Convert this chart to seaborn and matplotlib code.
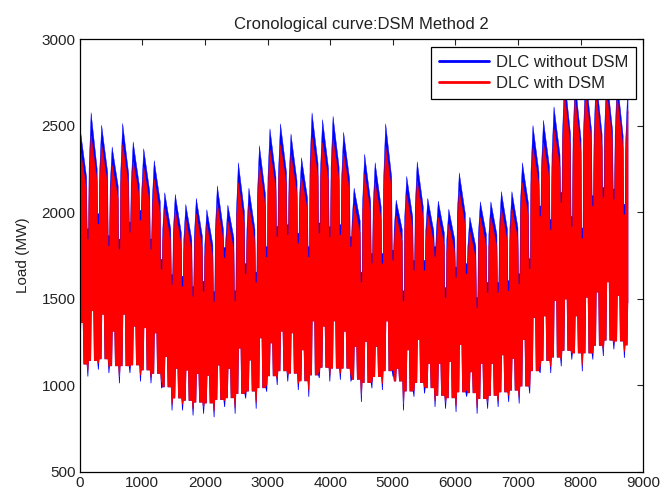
import numpy as np
import matplotlib
matplotlib.use("Agg")
import matplotlib.pyplot as plt
from matplotlib.lines import Line2D
import seaborn as sns

# ---- data (MW), one value per week / per weekend gap ----
# weekly peak of the load without DSM (blue) and with DSM (red)
peak_without = [2463, 2574, 2502, 2376, 2512, 2405, 2366, 2297, 2112, 2102, 2044, 2079, 2014,
                2151, 2040, 2285, 2138, 2383, 2481, 2510, 2451, 2314, 2573, 2534, 2553, 2461,
                2138, 2334, 2285, 2510, 2069, 2206, 2290, 2079, 2063, 2016, 2226, 1971, 2059,
                2059, 2118, 2118, 2285, 2500, 2530, 2608, 2780, 2760, 2800, 2780, 2800, 2770, 2700]
peak_with = [2350, 2440, 2390, 2270, 2390, 2290, 2260, 2190, 2020, 2010, 1960, 1990, 1930,
             2050, 1950, 2170, 2040, 2270, 2360, 2390, 2330, 2200, 2430, 2400, 2420, 2340,
             2040, 2220, 2170, 2380, 1980, 2100, 2180, 1990, 1970, 1930, 2120, 1890, 1970,
             1970, 2020, 2020, 2170, 2370, 2400, 2480, 2680, 2660, 2700, 2680, 2700, 2670, 2600]
# weekday shoulder level of the daily peaks
shoulder_without = [2200, 2250, 2230, 2150, 2220, 2160, 2120, 2060, 1900, 1880, 1840, 1860, 1810,
                    1900, 1850, 2000, 1900, 2100, 2200, 2230, 2180, 2080, 2280, 2250, 2260, 2190,
                    1950, 2060, 2030, 2200, 1900, 1970, 2030, 1890, 1880, 1840, 1990, 1800, 1870,
                    1870, 1900, 1910, 2050, 2230, 2260, 2330, 2450, 2420, 2470, 2450, 2470, 2440, 2400]
shoulder_with = [2130, 2180, 2160, 2080, 2150, 2090, 2050, 1990, 1830, 1810, 1770, 1790, 1740,
                 1830, 1780, 1930, 1830, 2030, 2130, 2160, 2110, 2010, 2210, 2180, 2190, 2120,
                 1880, 1990, 1960, 2130, 1830, 1900, 1960, 1820, 1810, 1770, 1920, 1730, 1800,
                 1800, 1830, 1840, 1980, 2160, 2190, 2260, 2380, 2350, 2400, 2380, 2400, 2370, 2330]
# weekend peak (bottom of the white gaps)
weekend_without = [1900, 1903, 1990, 1863, 1844, 1942, 2010, 1844, 1727, 1639, 1629, 1571, 1600,
                   1541, 1795, 1545, 1702, 1653, 1800, 1917, 1927, 1878, 1800, 1937, 1915, 1927,
                   1858, 1653, 1761, 1761, 1780, 1545, 1721, 1721, 1800, 1564, 1682, 1702, 1506,
                   1594, 1594, 1604, 1643, 1731, 2035, 1957, 2114, 1976, 1908, 2094, 2143, 2133, 2045]
weekend_with = [1840, 1843, 1930, 1803, 1784, 1882, 1950, 1784, 1667, 1579, 1569, 1511, 1540,
                1481, 1735, 1485, 1642, 1593, 1740, 1857, 1867, 1818, 1740, 1877, 1855, 1867,
                1798, 1593, 1701, 1701, 1720, 1485, 1661, 1661, 1740, 1504, 1622, 1642, 1446,
                1534, 1534, 1544, 1583, 1671, 1975, 1897, 2054, 1916, 1848, 2034, 2083, 2073, 1985]
# weekend minimum load
weekend_min_without = [1050, 1050, 1090, 1070, 1011, 1070, 1021, 1011, 982, 854, 854, 825, 835,
                       815, 874, 835, 923, 864, 962, 1001, 1021, 972, 933, 1041, 1021, 1031,
                       1021, 903, 982, 972, 1050, 854, 933, 952, 874, 864, 845, 933, 835,
                       864, 874, 903, 894, 952, 1070, 1070, 1109, 1148, 1080, 1148, 1168, 1207, 1158]
weekend_min_with = [1085, 1085, 1125, 1105, 1046, 1105, 1056, 1046, 1017, 889, 889, 860, 870,
                    850, 909, 870, 958, 899, 997, 1036, 1056, 1007, 968, 1076, 1056, 1066,
                    1056, 938, 1017, 1007, 1085, 889, 968, 987, 909, 899, 880, 968, 870,
                    899, 909, 938, 929, 987, 1105, 1105, 1144, 1183, 1115, 1183, 1203, 1242, 1193]
# weekday night minimum and the highest midweek minimum
night_min = [1120, 1140, 1150, 1110, 1110, 1115, 1086, 1066, 988, 924, 910, 900, 895,
             915, 925, 949, 964, 983, 1052, 1081, 1067, 1023, 1057, 1101, 1096, 1096,
             1032, 1013, 1047, 1081, 1022, 964, 1013, 983, 939, 925, 959, 954, 920,
             939, 959, 969, 993, 1081, 1140, 1160, 1199, 1184, 1184, 1228, 1258, 1253, 1230]
midweek_min = [1359, 1428, 1408, 1310, 1408, 1339, 1330, 1300, 1163, 1095, 1085, 1065, 1055,
               1114, 1095, 1212, 1143, 1271, 1242, 1310, 1300, 1202, 1369, 1339, 1369, 1310,
               1222, 1251, 1222, 1369, 1095, 1202, 1261, 1124, 1124, 1134, 1232, 1075, 1124,
               1124, 1173, 1153, 1261, 1389, 1398, 1487, 1496, 1398, 1506, 1536, 1595, 1516, 1475]

series_names = ["DLC without DSM", "DLC with DSM"]
series_colors = ["#0000ff", "#ff0000"]
x_ticks = [0, 1000, 2000, 3000, 4000, 5000, 6000, 7000, 8000, 9000]
y_ticks = [500, 1000, 1500, 2000, 2500, 3000]

HOURS = 8760
WEEK = 168
FIRST_GAP = 130


def clip(xs, ys):
    xs = np.asarray(xs, float)
    ys = np.asarray(ys, float)
    y0 = np.interp(0, xs, ys)
    y1 = np.interp(HOURS, xs, ys)
    m = (xs > 0) & (xs < HOURS)
    return np.r_[0, xs[m], HOURS], np.r_[y0, ys[m], y1]


def upper_edge(gap, shoulder, peak):
    xs, ys = [], []
    for k in range(len(peak)):
        g = FIRST_GAP + WEEK * (k - 1)
        xs += [g - 12, g + 12, g + 20, g + 52, g + 148]
        ys += [gap[k], gap[k], shoulder[k], peak[k], shoulder[k]]
    return clip(xs, ys)


def lower_edge(wmin, nmin, mmin):
    xs, ys = [], []
    for k in range(len(nmin)):
        g = FIRST_GAP + WEEK * (k - 1)
        xs += [g - 6, g + 6, g + 16, g + 50, g + 60, g + 88, g + 98, g + 150]
        ys += [wmin[k], wmin[k], nmin[k], nmin[k], mmin[k], mmin[k], nmin[k], nmin[k]]
    return clip(xs, ys)


sns.set_theme(style="white")
plt.rcParams["font.family"] = ["Liberation Sans", "DejaVu Sans"]

fig = plt.figure(figsize=(6.6, 4.92), dpi=100)
ax = fig.add_axes([0.1208, 0.0413, 0.8539, 0.8794])

specs = [
    (weekend_without, shoulder_without, peak_without, weekend_min_without),
    (weekend_with, shoulder_with, peak_with, weekend_min_with),
]
for (gap, sh, pk, wmin), name, col in zip(specs, series_names, series_colors):
    xu, yu = upper_edge(gap, sh, pk)
    xl, yl = lower_edge(wmin, night_min, midweek_min)
    ax.fill(np.r_[xu, xl[::-1]], np.r_[yu, yl[::-1]], color=col, lw=0)
    sns.lineplot(x=xu, y=yu, sort=False, estimator=None, color=col, lw=0.3, ax=ax, legend=False)

ax.set_xlim(0, 9000)
ax.set_ylim(500, 3000)
ax.set_xticks(x_ticks)
ax.set_yticks(y_ticks)
ax.tick_params(direction="in", length=4, width=0.8, top=True, right=True,
               labelsize=11, labelcolor="#222222", pad=3)
for s in ax.spines.values():
    s.set_visible(True)
    s.set_color("black")
    s.set_linewidth(0.9)
ax.set_xlabel("")
ax.set_ylabel("Load (MW)", fontsize=11, color="#222222", labelpad=8)
ax.set_title("Cronological curve:DSM Method 2", fontsize=12, color="#222222", pad=7)

handles = [Line2D([], [], color=c, lw=2, label=n) for n, c in zip(series_names, series_colors)]
leg = ax.legend(handles=handles, loc="upper right", bbox_to_anchor=(0.987, 0.9815),
                borderaxespad=0, fontsize=12, frameon=True, fancybox=False,
                edgecolor="black", framealpha=1, handlelength=3.0, handletextpad=0.45,
                labelspacing=0.4, borderpad=0.45)
leg.get_frame().set_linewidth(0.9)
for t in leg.get_texts():
    t.set_color("#222222")

fig.savefig("out.png", dpi=100, facecolor="white")
